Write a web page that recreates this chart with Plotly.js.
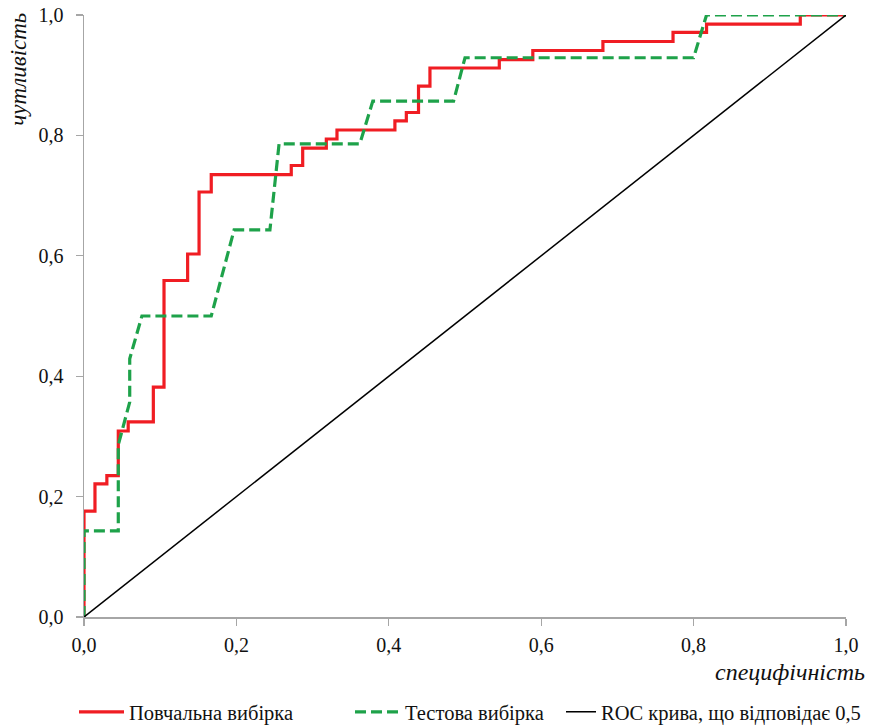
<!DOCTYPE html>
<html>
<head>
<meta charset="utf-8">
<script src="https://cdn.plot.ly/plotly-3.0.1.min.js"></script>
<style>html,body{margin:0;padding:0;background:#fff;}#chart{width:873px;height:725px;}</style>
</head>
<body>
<div id="chart"></div>
<script>
// Повчальна вибірка (training sample) ROC points
const trainX = [0, 0, 0.0144, 0.0144, 0.030, 0.030, 0.045, 0.045, 0.058, 0.058, 0.091, 0.091, 0.105, 0.105, 0.136, 0.136, 0.151, 0.151, 0.167, 0.167, 0.272, 0.272, 0.287, 0.287, 0.318, 0.318, 0.332, 0.332, 0.408, 0.408, 0.423, 0.423, 0.439, 0.439, 0.454, 0.454, 0.545, 0.545, 0.589, 0.589, 0.681, 0.681, 0.773, 0.773, 0.817, 0.817, 0.940, 0.940, 1.0];
const trainY = [0, 0.176, 0.176, 0.221, 0.221, 0.235, 0.235, 0.309, 0.309, 0.324, 0.324, 0.382, 0.382, 0.559, 0.559, 0.603, 0.603, 0.706, 0.706, 0.735, 0.735, 0.750, 0.750, 0.779, 0.779, 0.794, 0.794, 0.809, 0.809, 0.824, 0.824, 0.838, 0.838, 0.882, 0.882, 0.912, 0.912, 0.926, 0.926, 0.941, 0.941, 0.956, 0.956, 0.971, 0.971, 0.985, 0.985, 1.0, 1.0];
// Тестова вибірка (test sample) ROC points
const testX = [0, 0, 0.045, 0.045, 0.060, 0.060, 0.076, 0.167, 0.197, 0.244, 0.256, 0.362, 0.379, 0.485, 0.500, 0.800, 0.817, 1.0];
const testY = [0, 0.143, 0.143, 0.286, 0.357, 0.429, 0.500, 0.500, 0.643, 0.643, 0.786, 0.786, 0.857, 0.857, 0.929, 0.929, 1.0, 1.0];
// Діагональ
const diagX = [0, 1];
const diagY = [0, 1];
const seriesNames = ['Повчальна вибірка', 'Тестова вибірка', 'ROC крива, що відповідає 0,5'];
const tickVals = [0, 0.2, 0.4, 0.6, 0.8, 1.0];

const serif = 'Liberation Serif, Times New Roman, serif';
const traces = [
  {x: trainX, y: trainY, type: 'scatter', mode: 'lines', name: seriesNames[0], legend: 'legend',
   line: {color: '#f01d23', width: 3.2}},
  {x: testX, y: testY, type: 'scatter', mode: 'lines', name: seriesNames[1], legend: 'legend2',
   line: {color: '#1ea24a', width: 3.2, dash: '11px,5px'}},
  {x: diagX, y: diagY, type: 'scatter', mode: 'lines', name: seriesNames[2], legend: 'legend3',
   line: {color: '#000000', width: 1.5}}
];
const axisCommon = {
  range: [0, 1], tickvals: tickVals, tickformat: '.1f',
  showgrid: false, zeroline: false, showline: true, linecolor: '#a6a6a6', linewidth: 1.5,
  ticks: 'outside', ticklen: 7, tickcolor: '#a6a6a6', tickwidth: 1.2,
  tickfont: {family: serif, size: 20, color: '#111'}, fixedrange: true, automargin: false
};
function legendAt(px, iw) {
  return {orientation: 'h', xref: 'container', yref: 'container', x: px / 873, y: 0.018,
    xanchor: 'left', yanchor: 'middle', itemwidth: iw,
    font: {family: serif, size: 20.5, color: '#111'}, bgcolor: 'rgba(0,0,0,0)'};
}
const layout = {
  width: 873, height: 725,
  margin: {l: 84, r: 27, t: 15, b: 108},
  paper_bgcolor: '#fff', plot_bgcolor: '#fff',
  separators: ', ',
  xaxis: Object.assign({}, axisCommon, {ticklabelstandoff: 2}),
  yaxis: Object.assign({}, axisCommon, {ticklabelstandoff: 8}),
  showlegend: true,
  legend: legendAt(74, 45),
  legend2: legendAt(350, 45),
  legend3: legendAt(561, 30),
  annotations: [
    {text: '<i>чутливість</i>', xref: 'paper', yref: 'paper', x: -0.086, y: 0.91,
     textangle: -90, showarrow: false, font: {family: serif, size: 23, color: '#111'},
     xanchor: 'center', yanchor: 'middle'},
    {text: '<i>специфічність</i>', xref: 'paper', yref: 'paper', x: 1.027, y: -0.091,
     showarrow: false, font: {family: serif, size: 24, color: '#111'},
     xanchor: 'right', yanchor: 'middle'}
  ]
};
Plotly.newPlot('chart', traces, layout, {displayModeBar: false, staticPlot: true});
</script>
</body>
</html>
